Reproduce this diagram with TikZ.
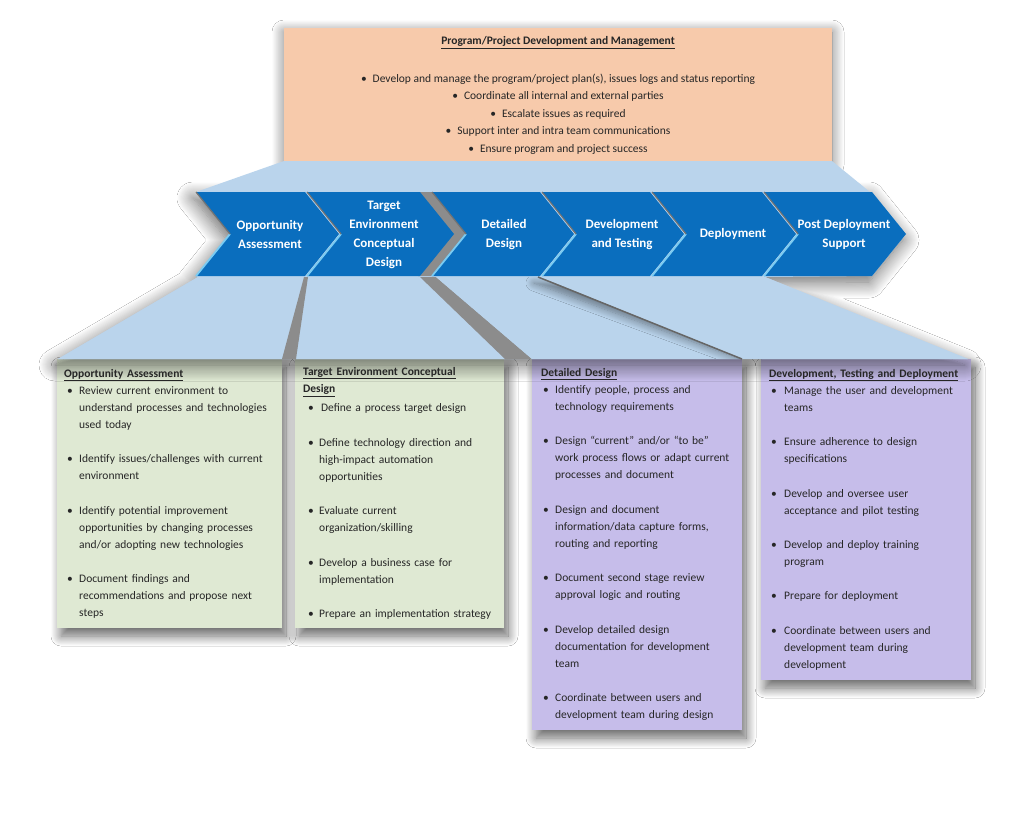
\documentclass[tikz,border=0pt]{standalone}
\usepackage{fontspec}
\setmainfont{Carlito}
\usetikzlibrary{shadows.blur}
\definecolor{peach}{HTML}{F7CAAB}
\definecolor{lblue}{HTML}{BAD4EC}
\definecolor{cblue}{HTML}{0A6EBE}
\definecolor{cedge}{HTML}{7ACBF2}
\definecolor{greenbox}{HTML}{DFE9D3}
\definecolor{purpbox}{HTML}{C6BDEA}
\definecolor{gband}{HTML}{8C8C8C}
\definecolor{txt}{HTML}{262626}
\newlength\bpre
\newlength\bind
\newcommand\bitem[1]{\par\noindent\hangindent=\bind\hangafter=1\makebox[\bind][l]{\hspace*{\bpre}\textbullet}#1}
\newcommand\bgap{\par\vspace{17.2pt}}
\newcommand\bodyfont{\fontsize{11.5}{17.1}\selectfont}
\newcommand\chevfont{\bfseries\fontsize{13}{19}\selectfont}
\begin{document}
\begin{tikzpicture}[x=1pt,y=-1pt,
  sh/.style={blur shadow={shadow xshift=4pt, shadow yshift=-8pt, shadow blur radius=10pt, shadow blur steps=14, shadow opacity=60}},
  bigsh/.style={blur shadow={shadow xshift=-3pt, shadow yshift=-6pt, shadow blur radius=16pt, shadow blur steps=16, shadow opacity=60}},
  boxtext/.style={anchor=north west, text width=240pt, align=left, inner sep=0pt, font=\bodyfont, text=txt},
  chevtext/.style={align=center, inner sep=0pt, font=\chevfont, text=white}]
\useasboundingbox (0,0) rectangle (1024,815);
\fill[white] (0,0) rectangle (1024,815);

% bottom boxes
\path[fill=greenbox, sh] (57,359) rectangle (282,628);
\path[fill=greenbox, sh] (295,359) rectangle (504,628);
\path[fill=purpbox, sh] (532,359) rectangle (742,730);
\path[fill=purpbox, sh] (761,359) rectangle (971,680);

% top box
\path[fill=peach, blur shadow={shadow xshift=0pt, shadow yshift=-4pt, shadow blur radius=12pt, shadow blur steps=14, shadow opacity=55}] (284,28) rectangle (832,161);

% band shadow
\path[fill=lblue, bigsh] (196,192) -- (872,192) -- (906,234) -- (872,276) -- (765,277) -- (968,359) -- (58,359) -- (198,277) -- (196,276) -- (230,234) -- cycle;

% top trapezoid
\fill[lblue] (284,161) -- (832,161) -- (870,192) -- (196,192) -- cycle;

% lower trapezoids
\fill[lblue] (198,277) -- (304,277) -- (282,359) -- (58,359) -- cycle;
\fill[lblue] (308,277) -- (422,277) -- (505,359) -- (296,359) -- cycle;
\fill[gband] (304,277) -- (308,277) -- (296,359) -- (282,359) -- cycle;
\fill[gband] (420,277) -- (436,277) -- (532,359) -- (505,359) -- cycle;
\fill[lblue] (436,277) -- (540,277) -- (742,359) -- (532,359) -- cycle;
\begin{scope}
  \clip (436,277) -- (540,277) -- (742,359) -- (532,359) -- cycle;
  \path[fill=lblue, blur shadow={shadow xshift=-6pt, shadow yshift=-6pt, shadow blur radius=8pt, shadow blur steps=10, shadow opacity=45}] (540,277) -- (765,277) -- (968,359) -- (762,359) -- cycle;
\end{scope}
\fill[lblue] (540,277) -- (765,277) -- (968,359) -- (762,359) -- cycle;
\draw[black!60, line width=1.5pt] (538,277) -- (742,359);

% gray gap between chevrons 2 and 3
\fill[gband] (418,192) -- (434,192) -- (468,234) -- (434,276) -- (418,276) -- (452,234) -- cycle;

% chevrons
\foreach \L/\R in {196/305, 307/420, 432/540, 542/650, 652/762, 764/872} {
  \fill[cblue] (\L,192) -- (\R,192) -- (\R+34,234) -- (\R,276) -- (\L,276) -- (\L+34,234) -- cycle;
  \draw[cedge, line width=1.8pt] (\L+34,234) -- (\L,276);
  \draw[black!55, line width=1.2pt] (\L,192) -- (\L+34,234);
}

% chevron labels
\node[chevtext] (c1) at (270,234.5) {Opportunity\\Assessment};
\node[chevtext] (c2) at (384,235) {Target\\Environment\\Conceptual\\Design};
\node[chevtext] (c3) at (504,234.5) {Detailed\\Design};
\node[chevtext] (c4) at (622,234.5) {Development\\and Testing};
\node[chevtext] (c5) at (733,234) {Deployment};
\node[chevtext] (c6) at (844,234.5) {Post Deployment\\Support};

% top box text
\node[font=\bfseries\fontsize{11.5}{17}\selectfont, text=txt, inner sep=0pt] (ttl) at (558,42.5) {\underline{Program/Project Development and Management}};
\node[align=center, font=\fontsize{11.5}{17.5}\selectfont, text=txt, inner sep=0pt] (tlist) at (558,114) {%
\textbullet\hspace{6pt}Develop and manage the program/project plan(s), issues logs and status reporting\\
\textbullet\hspace{6pt}Coordinate all internal and external parties\\
\textbullet\hspace{6pt}Escalate issues as required\\
\textbullet\hspace{6pt}Support inter and intra team communications\\
\textbullet\hspace{6pt}Ensure program and project success};

% box texts
\node[boxtext] (t1) at (64,369) {\setlength\bpre{3pt}\setlength\bind{15pt}%
\textbf{\underline{Opportunity Assessment}}%
\bitem{Review current environment to\newline understand processes and technologies\newline used today}\bgap
\bitem{Identify issues/challenges with current\newline environment}\bgap
\bitem{Identify potential improvement\newline opportunities by changing processes\newline and/or adopting new technologies}\bgap
\bitem{Document findings and\newline recommendations and propose next\newline steps}\par};

\node[boxtext] (t2) at (303,367) {\setlength\bpre{5pt}\setlength\bind{16pt}%
\textbf{\underline{Target Environment Conceptual}}\newline\textbf{\underline{Design}}\par\vspace{2.5pt}%
\bitem{\,Define a process target design}\bgap
\bitem{Define technology direction and\newline high-impact automation\newline opportunities}\bgap
\bitem{Evaluate current\newline organization/skilling}\bgap
\bitem{Develop a business case for\newline implementation}\bgap
\bitem{Prepare an implementation strategy}\par};

\node[boxtext] (t3) at (541,368) {\setlength\bpre{2pt}\setlength\bind{14pt}%
\textbf{\underline{Detailed Design}}%
\bitem{Identify people, process and\newline technology requirements}\bgap
\bitem{Design “current” and/or “to be”\newline work process flows or adapt current\newline processes and document}\bgap
\bitem{Design and document\newline information/data capture forms,\newline routing and reporting}\bgap
\bitem{Document second stage review\newline approval logic and routing}\bgap
\bitem{Develop detailed design\newline documentation for development\newline team}\bgap
\bitem{Coordinate between users and\newline development team during design}\par};

\node[boxtext] (t4) at (769,369) {\setlength\bpre{2pt}\setlength\bind{15pt}%
\textbf{\underline{Development, Testing and Deployment}}%
\bitem{Manage the user and development\newline teams}\bgap
\bitem{Ensure adherence to design\newline specifications}\bgap
\bitem{Develop and oversee user\newline acceptance and pilot testing}\bgap
\bitem{Develop and deploy training\newline program}\bgap
\bitem{Prepare for deployment}\bgap
\bitem{Coordinate between users and\newline development team during\newline development}\par};
\end{tikzpicture}
\end{document}
